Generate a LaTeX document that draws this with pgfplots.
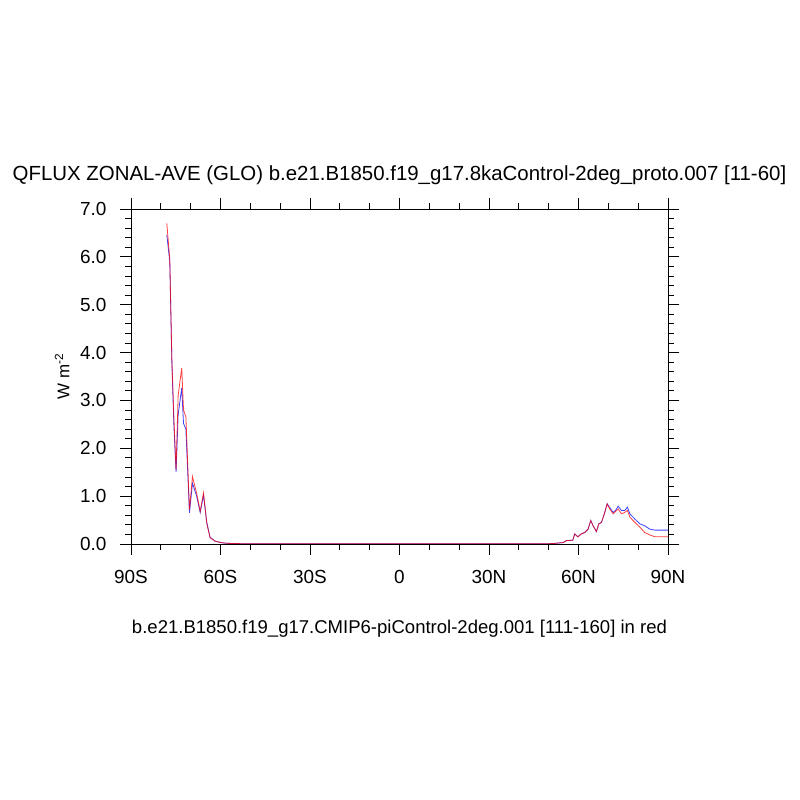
\documentclass[border=0pt]{standalone}
\usepackage{pgfplots}
\pgfplotsset{compat=1.18}
\usepackage{fontspec}
\setmainfont{Liberation Sans}
\begin{document}
\begin{tikzpicture}[x=1bp,y=1bp]
\path[use as bounding box] (0,0) rectangle (800,800);
\begin{axis}[
  at={(131bp,256bp)}, anchor=south west,
  width=537bp, height=335bp, scale only axis,
  xmin=-90, xmax=90, ymin=0, ymax=7,
  xtick={-90,-60,-30,0,30,60,90},
  xticklabels={90S,60S,30S,0,30N,60N,90N},
  minor xtick={-80,-70,-50,-40,-20,-10,10,20,40,50,70,80},
  ytick={0,1,2,3,4,5,6,7},
  yticklabels={0.0,1.0,2.0,3.0,4.0,5.0,6.0,7.0},
  minor y tick num=4,
  tick align=outside,
  major tick length=11bp, minor tick length=6bp,
  tick style={black, line width=0.8bp},
  axis line style={line width=0.8bp},
  ticklabel style={font=\fontsize{19}{22}\selectfont},
  xticklabel style={yshift=-12bp},
  yticklabel style={xshift=-10bp},
  /pgf/number format/assume math mode=true,
  ylabel={W m\textsuperscript{-2}},
  ylabel style={font=\fontsize{17}{20}\selectfont, yshift=4bp},
  clip=true,
]
\addplot[blue, line width=0.8bp, opacity=0.75] coordinates {
(-78.0,6.46) (-77.0,5.90) (-76.3,3.80) (-75.6,2.45) (-74.9,1.50) (-74.2,2.70)
(-73.0,3.26) (-72.4,2.52) (-71.6,2.40) (-70.4,0.65) (-69.4,1.27) (-68.0,1.00)
(-66.8,0.66) (-65.7,1.02) (-64.6,0.45) (-63.5,0.14) (-61.8,0.06) (-60.0,0.03)
(-58,0.015) (-55,0.008) (-50,0.005) (-30,0.005) (0,0.005) (30,0.005) (50,0.006)
(51.5,0.01) (54.9,0.03) (55.9,0.07) (58.1,0.08) (58.7,0.21) (59.8,0.15)
(60.9,0.21) (62.1,0.24) (63.2,0.31) (64.1,0.49) (64.9,0.38) (66.0,0.26)
(66.8,0.42) (67.7,0.45) (68.8,0.66) (69.6,0.84) (70.5,0.76) (71.6,0.66)
(72.4,0.70) (73.3,0.79) (74.4,0.70) (75.5,0.70) (76.4,0.77) (77.2,0.63)
(78.9,0.52) (80.6,0.42) (82.2,0.38) (83.9,0.31) (85.6,0.29) (90,0.29)
};
\addplot[red, line width=0.8bp, opacity=0.75] coordinates {
(-78.0,6.70) (-77.0,5.95) (-76.3,3.85) (-75.6,2.59) (-74.9,1.55) (-74.2,3.10)
(-73.0,3.68) (-72.4,2.80) (-71.6,2.65) (-70.4,0.71) (-69.4,1.41) (-68.0,1.06)
(-66.8,0.68) (-65.7,1.07) (-64.6,0.43) (-63.5,0.13) (-61.8,0.06) (-60.0,0.03)
(-58,0.015) (-55,0.008) (-50,0.005) (-30,0.005) (0,0.005) (30,0.005) (50,0.006)
(51.5,0.01) (54.9,0.03) (55.9,0.07) (58.1,0.08) (58.7,0.21) (59.8,0.15)
(60.9,0.21) (62.1,0.24) (63.2,0.31) (64.1,0.49) (64.9,0.38) (66.0,0.26)
(66.8,0.42) (67.7,0.45) (68.8,0.66) (69.6,0.84) (70.5,0.73) (71.6,0.63)
(72.4,0.68) (73.3,0.73) (74.4,0.63) (75.5,0.66) (76.4,0.70) (77.2,0.56)
(78.9,0.45) (80.6,0.35) (82.2,0.24) (83.9,0.19) (85.6,0.15) (90,0.15)
};
\end{axis}
\node[font=\fontsize{20.5}{24}\selectfont] at (399.5,625) {QFLUX ZONAL-AVE (GLO) b.e21.B1850.f19\_g17.8kaControl-2deg\_proto.007 [11-60]};
\node[font=\fontsize{18.6}{22}\selectfont] at (399.5,171) {b.e21.B1850.f19\_g17.CMIP6-piControl-2deg.001 [111-160] in red};
\end{tikzpicture}
\end{document}
